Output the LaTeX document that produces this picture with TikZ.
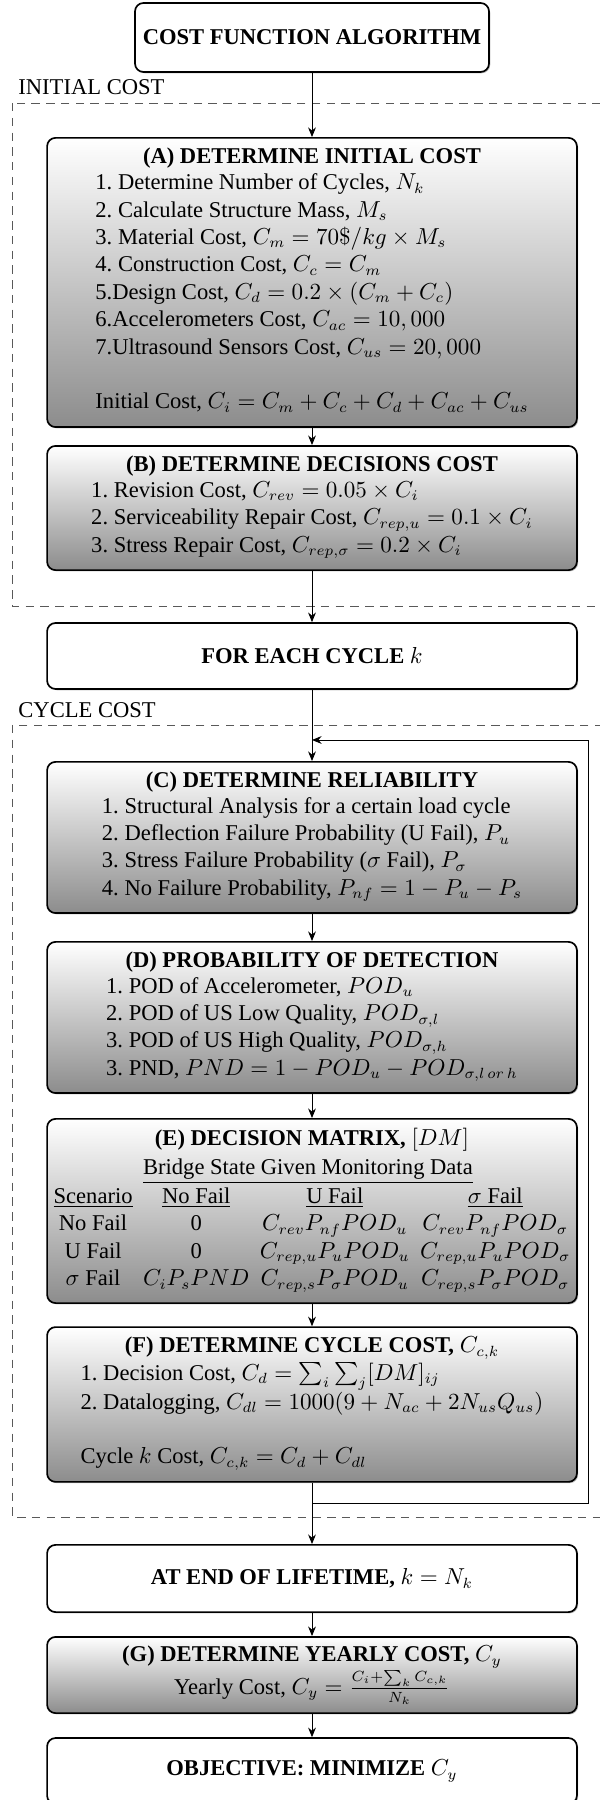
\documentclass[tikz,border=0pt]{standalone}
\usepackage[no-math]{fontspec}
\setmainfont{Liberation Serif}
\usepackage{amsmath}
\usetikzlibrary{arrows.meta,shadows}
\tikzset{
    gbox/.style={draw, thick, rounded corners=4pt, top color=white,
                 bottom color=black!45, minimum width=8.83cm,
                 minimum height=#1, align=center, inner sep=2pt,
                 drop shadow={shadow xshift=0.6pt, shadow yshift=-0.6pt,
                              opacity=0.5}},
    wbox/.style={draw, thick, rounded corners=4pt, fill=white,
                 minimum width=8.83cm, minimum height=#1, align=center,
                 drop shadow={shadow xshift=0.6pt, shadow yshift=-0.6pt,
                              opacity=0.5}},
    grp/.style={draw=black!65, dash pattern=on 4pt off 3pt},
    grplabel/.style={anchor=base west, inner sep=0pt},
}

\begin{document}
\begin{tikzpicture}[
    arr/.style={-{Stealth[length=1.6mm, width=1.3mm]}, thin},
    font=\fontsize{10.7pt}{13pt}\selectfont
]
    \useasboundingbox (0,0) rectangle (10,-30);
    \clip (0,0) rectangle (10,-30);

    \draw[grp] (0.2,-1.717) rectangle (10.5,-10.1);
    \node[grplabel] (lblinit) at (0.3,-1.583) {INITIAL COST};
    \draw[grp] (0.2,-12.083) rectangle (10.5,-25.283);
    \node[grplabel] (lblcycle) at (0.3,-11.95) {CYCLE COST};

    \node[wbox=1.15cm, minimum width=5.9cm] (start) at (5.2,-0.625)
        {\textbf{COST FUNCTION ALGORITHM}};
    \node[gbox=4.82cm] (initA) at (5.2,-4.708) {\textbf{(A) DETERMINE INITIAL COST}\\
        \begin{tabular}{@{}l@{}}
        1.~Determine Number of Cycles, $N_k$\\
        2.~Calculate Structure Mass, $M_s$\\
        3.~Material Cost, $C_m = 70\$/kg \times M_s$\\
        4.~Construction Cost, $C_c = C_m$\\
        5.Design Cost, $C_d = 0.2 \times (C_m + C_c)$\\
        6.Accelerometers Cost, $C_{ac} = 10,000$\\
        7.Ultrasound Sensors Cost, $C_{us} = 20,000$\\
        \\
        Initial Cost, $C_i = C_m + C_c + C_d + C_{ac} + C_{us}$
        \end{tabular}};
    \node[gbox=2.07cm] (decB) at (5.2,-8.467) {\textbf{(B) DETERMINE DECISIONS COST}\\
        \begin{tabular}{@{}l@{}}
        1.~Revision Cost, $C_{rev} = 0.05 \times C_i$\\
        2.~Serviceability Repair Cost, $C_{rep,u} = 0.1 \times C_i$\\
        3.~Stress Repair Cost, $C_{rep,\sigma} = 0.2 \times C_i$
        \end{tabular}};
    \node[wbox=1.1cm] (cycle) at (5.2,-10.933) {\textbf{FOR EACH CYCLE} $k$};
    \node[gbox=2.52cm] (relC) at (5.2,-13.958) {\textbf{(C) DETERMINE RELIABILITY}\\
        \begin{tabular}{@{}l@{}}
        1.~Structural Analysis for a certain load cycle\\
        2.~Deflection Failure Probability (U Fail), $P_u$\\
        3.~Stress Failure Probability ($\sigma$ Fail), $P_\sigma$\\
        4.~No Failure Probability, $P_{nf} = 1 - P_u - P_s$
        \end{tabular}};
    \node[gbox=2.52cm] (podD) at (5.2,-16.958) {\textbf{(D) PROBABILITY OF DETECTION}\\
        \begin{tabular}{@{}l@{}}
        1.~POD of Accelerometer, $POD_u$\\
        2.~POD of US Low Quality, $POD_{\sigma,l}$\\
        3.~POD of US High Quality, $POD_{\sigma,h}$\\
        3.~PND, $PND = 1 - POD_u - POD_{\sigma,l\,or\,h}$
        \end{tabular}};
    \node[gbox=3.07cm] (dmE) at (5.2,-20.183) {\textbf{(E) DECISION MATRIX,} $[DM]$\\[1pt]
        \setlength{\tabcolsep}{2.5pt}%
        \begin{tabular}{@{}cccc@{}}
        & \multicolumn{3}{l}{\underline{Bridge State Given Monitoring Data}}\\
        \underline{Scenario} & \underline{No Fail} & \underline{U Fail} & \underline{$\sigma$ Fail}\\
        No Fail & 0 & $C_{rev}P_{nf}POD_u$ & $C_{rev}P_{nf}POD_\sigma$\\
        U Fail & 0 & $C_{rep,u}P_uPOD_u$ & $C_{rep,u}P_uPOD_\sigma$\\
        $\sigma$ Fail & $C_iP_sPND$ & $C_{rep,s}P_\sigma POD_u$ & $C_{rep,s}P_\sigma POD_\sigma$
        \end{tabular}};
    \node[gbox=2.58cm] (ccF) at (5.2,-23.408) {\textbf{(F) DETERMINE CYCLE COST,} $C_{c,k}$\\
        \begin{tabular}{@{}l@{}}
        1.~Decision Cost, $C_d = \sum_i \sum_j [DM]_{ij}$\\
        2.~Datalogging, $C_{dl} = 1000(9 + N_{ac} + 2N_{us}Q_{us})$\\
        \\
        Cycle $k$ Cost, $C_{c,k} = C_d + C_{dl}$
        \end{tabular}};
    \node[wbox=1.12cm] (endlife) at (5.2,-26.308) {\textbf{AT END OF LIFETIME,} $k = N_k$};
    \node[gbox=1.27cm] (yearG) at (5.2,-27.917) {\textbf{(G) DETERMINE YEARLY COST,} $C_y$\\
        Yearly Cost, $C_y = \frac{C_i + \sum_k C_{c,k}}{N_k}$};
    \node[wbox=1.1cm] (obj) at (5.2,-29.517) {\textbf{OBJECTIVE: MINIMIZE} $C_y$};

    \coordinate (loopin) at (5.2,-12.333);
    \coordinate (loopout) at (5.2,-25.05);

    \draw[arr] (start) -- (initA);
    \draw[arr] (initA) -- (decB);
    \draw[arr] (decB) -- (cycle);
    \draw[arr] (cycle) -- (relC);
    \draw[arr] (relC) -- (podD);
    \draw[arr] (podD) -- (dmE);
    \draw[arr] (dmE) -- (ccF);
    \draw[arr] (ccF) -- (endlife);
    \draw[arr] (endlife) -- (yearG);
    \draw[arr] (yearG) -- (obj);
    \draw[arr] (loopout) -- ++(4.6,0) |- (loopin);
\end{tikzpicture}
\end{document}
